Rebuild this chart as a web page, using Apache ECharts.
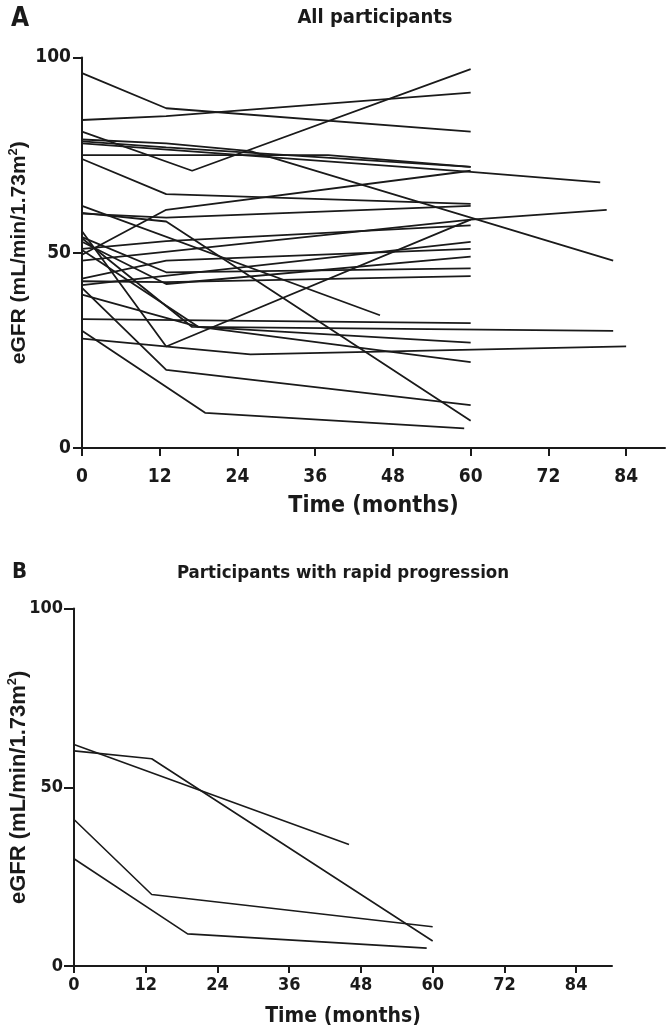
<!DOCTYPE html>
<html><head><meta charset="utf-8">
<script src="https://cdn.jsdelivr.net/npm/echarts@6/dist/echarts.min.js"></script>
<style>html,body{margin:0;padding:0;background:#fff}#c{width:668px;height:1033px}</style>
</head><body><div id="c"></div>
<script>
// Each participant: visit times (months) and eGFR values (mL/min/1.73m2)
const participantTimes = [
  [0,13,60],[0,13,60],[0,17,60],[0,13,26,82],[0,13,60],[0,60,80],[0,38,60],[0,13,60],
  [0,13,60],[0,13,60],[0,46],[0,13,60],[0,19,59],[0,13,60],[0,13,60],[0,13,60],
  [0,13,60],[0,13,60],[0,60,81],[0,60],[0,13,60],[0,13,60],[0,60],[0,17,82],
  [0,18,60],[0,18,60],[0,26,84]
];
const participantValues = [
  [96,87,81],[84,85,91],[81,71,97],[79,78,76,48],[78.5,77,72],[78,70.7,68],[75,75,72],[74,65,62.5],
  [49.5,61,71],[60.2,58,7],[62,34],[41,20,11],[30,9,5],[60,59,62],[55.5,26,58.5],[54,45,46],
  [51,53,57],[43.4,48,51],[48,58.5,61],[41.7,52.8],[52.8,42,49],[42.7,42.5,44],[33,32],[53.7,31,30],
  [50.7,31,27],[39.3,31,22],[28,24,26]
];
// participants with rapid progression (indices into the arrays above)
const rapidIndices = [9,10,11,12];
const xTickValues = [0,12,24,36,48,60,72,84];
const yTickValues = [0,50,100];
const panelTitles = ['All participants','Participants with rapid progression'];
const panelLetters = ['A','B'];
const xAxisName = 'Time (months)';
const yAxisName = 'eGFR (mL/min/1.73m{sup|2})';

const NARROW = "'DejaVu Sans Condensed','Liberation Sans Narrow','Arial Narrow','Liberation Sans',sans-serif";
const SANS = "'Liberation Sans',Arial,sans-serif";
const INK = '#1a1a1a';

function toPoints(i){ return participantTimes[i].map((t,k)=>[t, participantValues[i][k]]); }

const grids = [
  {left:82, top:57.5, width:583, height:390.5, containLabel:false, outerBoundsMode:'none'},
  {left:74, top:608.6, width:538, height:357.4, containLabel:false, outerBoundsMode:'none'}
];
const sizes = [
  {tick:19, tickMargin:20, yMargin:11, name:23, nameGap:47, yName:21, yNameGap:50, tickLen:8, ytickLen:9, lw:1.8},
  {tick:18, tickMargin:10, yMargin:11, name:21, nameGap:40, yName:22, yNameGap:42, tickLen:7, ytickLen:10, lw:1.6}
];

const xAxes = sizes.map((s,g)=>({
  type:'value', gridIndex:g, min:0, max:90, interval:12,
  axisLine:{show:true, onZero:false, lineStyle:{color:INK, width:2}},
  axisTick:{show:true, length:s.tickLen, customValues:xTickValues, lineStyle:{color:INK, width:2}},
  axisLabel:{customValues:xTickValues, margin:s.tickMargin, fontSize:s.tick, fontWeight:'bold', color:INK, fontFamily:NARROW},
  splitLine:{show:false},
  name:xAxisName, nameLocation:'middle', nameGap:s.nameGap, nameMoveOverlap:false,
  nameTextStyle:{fontSize:s.name, fontWeight:'bold', color:INK, fontFamily:NARROW}
}));
const yAxes = sizes.map((s,g)=>({
  type:'value', gridIndex:g, min:0, max:100, interval:50,
  axisLine:{show:true, lineStyle:{color:INK, width:2}},
  axisTick:{show:true, length:s.ytickLen, lineStyle:{color:INK, width:2}},
  axisLabel:{margin:s.yMargin, fontSize:s.tick, fontWeight:'bold', color:INK, fontFamily:NARROW},
  splitLine:{show:false},
  name:yAxisName, nameLocation:'middle', nameGap:s.yNameGap, nameMoveOverlap:false,
  nameTextStyle:{fontSize:s.yName, fontWeight:'bold', color:INK, fontFamily:SANS, lineHeight:s.yName+4,
    rich:{sup:{fontSize:Math.round(s.yName*0.6), fontWeight:'bold', color:INK, fontFamily:SANS, verticalAlign:'top', lineHeight:Math.round(s.yName*0.6)}}}
}));

const series = [];
participantTimes.forEach((_,i)=>{
  series.push({type:'line', xAxisIndex:0, yAxisIndex:0, data:toPoints(i), symbol:'none', silent:true,
    lineStyle:{color:INK, width:sizes[0].lw}, animation:false});
});
rapidIndices.forEach(i=>{
  series.push({type:'line', xAxisIndex:1, yAxisIndex:1, data:toPoints(i), symbol:'none', silent:true,
    lineStyle:{color:INK, width:sizes[1].lw}, animation:false});
});

const graphic = [
  {type:'text', left:11, top:6, style:{text:panelLetters[0], font:"bold 26px "+NARROW, fill:INK}},
  {type:'text', x:375, y:18, style:{text:panelTitles[0], font:"bold 20px "+NARROW, fill:INK, textAlign:'center', textVerticalAlign:'middle'}},
  {type:'text', left:12, top:561, style:{text:panelLetters[1], font:"bold 22px "+NARROW, fill:INK}},
  {type:'text', x:343, y:573, style:{text:panelTitles[1], font:"bold 18.5px "+NARROW, fill:INK, textAlign:'center', textVerticalAlign:'middle'}}
];

const chart = echarts.init(document.getElementById('c'), null, {renderer:'canvas'});
chart.setOption({
  backgroundColor:'#fff', animation:false,
  grid:grids, xAxis:xAxes, yAxis:yAxes, series:series, graphic:graphic
});
</script></body></html>
